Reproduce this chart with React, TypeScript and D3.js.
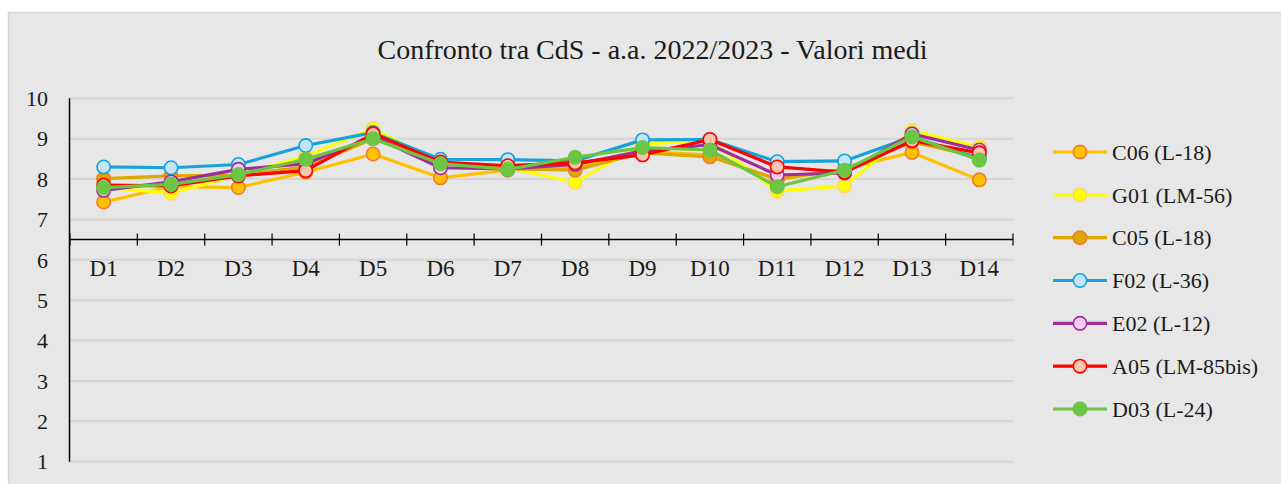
import React from "react";
import * as d3 from "d3";

const categories = ["D1","D2","D3","D4","D5","D6","D7","D8","D9","D10","D11","D12","D13","D14"];
const yTicks = [1,2,3,4,5,6,7,8,9,10];
const title = "Confronto tra CdS - a.a. 2022/2023 - Valori medi";

const c06 = [7.43, 7.82, 7.79, 8.17, 8.62, 8.03, 8.22, 8.30, 8.68, 8.60, 7.98, 8.25, 8.66, 7.98];
const g01 = [7.80, 7.65, 8.10, 8.57, 9.25, 8.40, 8.28, 7.92, 8.87, 8.95, 7.70, 7.83, 9.20, 8.80];
const c05 = [8.01, 8.08, 8.10, 8.30, 9.00, 8.40, 8.25, 8.22, 8.65, 8.55, 8.00, 8.25, 8.92, 8.55];
const f02 = [8.30, 8.28, 8.36, 8.83, 9.15, 8.49, 8.48, 8.45, 8.97, 8.98, 8.43, 8.45, 9.05, 8.50];
const e02 = [7.72, 7.93, 8.24, 8.38, 9.05, 8.28, 8.25, 8.36, 8.70, 8.85, 8.10, 8.15, 9.12, 8.72];
const a05 = [7.85, 7.83, 8.08, 8.21, 9.12, 8.42, 8.33, 8.40, 8.60, 8.98, 8.30, 8.17, 8.95, 8.65];
const d03 = [7.79, 7.87, 8.11, 8.49, 9.00, 8.38, 8.24, 8.54, 8.78, 8.72, 7.81, 8.22, 9.05, 8.47];

const seriesNames = ["C06 (L-18)","G01 (LM-56)","C05 (L-18)","F02 (L-36)","E02 (L-12)","A05 (LM-85bis)","D03 (L-24)"];
const seriesValues = [c06, g01, c05, f02, e02, a05, d03];
const lineColors = ["#FFC000","#FFFF00","#DDA800","#17A2DA","#A02D9C","#FF0000","#6CC644"];
const markerFills = ["#FFC000","#FFFF00","#DDA800","#C2E5F7","#F3CCF0","#F6C7AE","#6CC644"];
const markerStrokes = ["#ED7D31","#FFD966","#ED7D31","#17A2DA","#A02D9C","#FF0000","#6CC644"];

const FONT = "'Liberation Serif', 'Times New Roman', serif";

export default function App() {
  const W = 1281, H = 484;
  const x = d3.scaleBand<string>().domain(categories).range([70, 1013]).padding(0);
  const y = d3.scaleLinear().domain([1, 10]).range([461.7, 98.3]);
  const cx = (c: string) => (x(c) as number) + x.bandwidth() / 2;
  const axisY = y(6.5);
  const line = d3.line<number>().x((_, i) => cx(categories[i])).y((v) => y(v));
  const legendY = d3.scalePoint<string>().domain(seriesNames).range([152, 409]);

  return (
    <svg width={W} height={H} style={{ position: "absolute", left: 0, top: 0 }} fontFamily={FONT}>
      <rect x={0} y={0} width={W} height={H} fill="#ffffff" />
      <rect x={8.5} y={12.5} width={W} height={H} fill="#E7E7E7" stroke="#D6D6D6" strokeWidth={1.5} />
      <text x={652.5} y={59} textAnchor="middle" fontSize={28} fill="#1a1a1a">{title}</text>
      {yTicks.map((t) => (
        <g key={t}>
          <line x1={70} x2={1013} y1={y(t)} y2={y(t)} stroke="#D6D6D6" strokeWidth={2} />
          <text x={48} y={y(t)} dy="0.35em" textAnchor="end" fontSize={22} fill="#1a1a1a">{t}</text>
        </g>
      ))}
      <line x1={69.5} x2={69.5} y1={y(10)} y2={y(1)} stroke="#000" strokeWidth={1.5} />
      <line x1={69.5} x2={1013} y1={axisY} y2={axisY} stroke="#000" strokeWidth={1.5} />
      {categories.map((c) => (
        <line key={"t" + c} x1={x(c) as number} x2={x(c) as number} y1={axisY - 6} y2={axisY + 6} stroke="#000" strokeWidth={1.2} />
      ))}
      <line x1={1013} x2={1013} y1={axisY - 6} y2={axisY + 6} stroke="#000" strokeWidth={1.2} />
      {categories.map((c) => (
        <text key={"l" + c} x={cx(c)} y={axisY + 28} dy="0.35em" textAnchor="middle" fontSize={23} fill="#1a1a1a">{c}</text>
      ))}
      {seriesValues.map((vals, si) => (
        <g key={si}>
          <path d={line(vals) as string} fill="none" stroke={lineColors[si]} strokeWidth={3.2} strokeLinejoin="round" />
          {vals.map((v, i) => (
            <circle key={i} cx={cx(categories[i])} cy={y(v)} r={6.7} fill={markerFills[si]} stroke={markerStrokes[si]} strokeWidth={1.6} />
          ))}
        </g>
      ))}
      {seriesNames.map((n, si) => {
        const ly = legendY(n) as number;
        return (
          <g key={n}>
            <line x1={1053} x2={1107} y1={ly} y2={ly} stroke={lineColors[si]} strokeWidth={3.2} />
            <circle cx={1080} cy={ly} r={6.7} fill={markerFills[si]} stroke={markerStrokes[si]} strokeWidth={1.6} />
            <text x={1112} y={ly} dy="0.35em" fontSize={22} fill="#1a1a1a">{n}</text>
          </g>
        );
      })}
    </svg>
  );
}
